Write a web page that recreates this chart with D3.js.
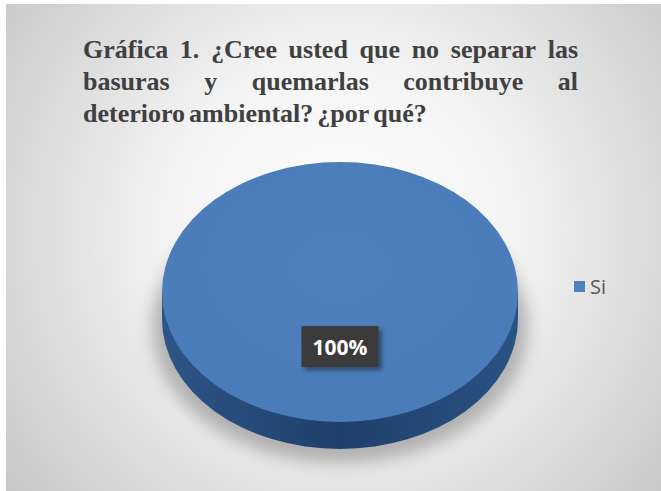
<!DOCTYPE html>
<html>
<head>
<meta charset="utf-8">
<script src="https://cdn.jsdelivr.net/npm/d3@7"></script>
<style>
  html, body { margin: 0; padding: 0; background: #fff; }
  svg { display: block; }
</style>
</head>
<body>
<div id="chart"></div>
<script>
// Data
const categories = ['Si'];
const values = [100];
const titleLines = [
    'Gráfica 1. ¿Cree usted que no separar las',
    'basuras y quemarlas contribuye al',
    'deterioro ambiental? ¿por qué?'
];

const W = 661, H = 491;
const svg = d3.select('#chart').append('svg')
    .attr('width', W)
    .attr('height', H);

const defs = svg.append('defs');

// Background panel gradient
const bg = defs.append('radialGradient')
    .attr('id', 'bg')
    .attr('gradientUnits', 'userSpaceOnUse')
    .attr('cx', 340).attr('cy', 230).attr('r', 440);
bg.append('stop').attr('offset', '0%').attr('stop-color', '#ffffff');
bg.append('stop').attr('offset', '40%').attr('stop-color', '#f3f3f3');
bg.append('stop').attr('offset', '100%').attr('stop-color', '#c4c4c4');

const sideGrad = defs.append('linearGradient')
    .attr('id', 'side')
    .attr('x1', '0%').attr('x2', '100%');
sideGrad.append('stop').attr('offset', '0%').attr('stop-color', '#2d5586');
sideGrad.append('stop').attr('offset', '50%').attr('stop-color', '#1f3f6b');
sideGrad.append('stop').attr('offset', '100%').attr('stop-color', '#2a5283');

const topGrad = defs.append('radialGradient')
    .attr('id', 'top')
    .attr('cx', '50%').attr('cy', '40%').attr('r', '60%');
topGrad.append('stop').attr('offset', '0%').attr('stop-color', '#4f80bd');
topGrad.append('stop').attr('offset', '100%').attr('stop-color', '#4a7cb9');

const blur = defs.append('filter').attr('id', 'blur')
    .attr('x', '-20%').attr('y', '-20%').attr('width', '140%').attr('height', '140%');
blur.append('feGaussianBlur').attr('stdDeviation', 8);

const boxShadow = defs.append('filter').attr('id', 'boxShadow')
    .attr('x', '-20%').attr('y', '-20%').attr('width', '150%').attr('height', '160%');
boxShadow.append('feDropShadow')
    .attr('dx', 3).attr('dy', 3).attr('stdDeviation', 2.5)
    .attr('flood-color', '#000').attr('flood-opacity', 0.45);

svg.append('rect')
    .attr('x', 6).attr('y', 4)
    .attr('width', W - 6).attr('height', H - 4)
    .attr('fill', 'url(#bg)');

// Title, justified over the first two lines
const titleX0 = 83, titleX1 = 578;
const title = svg.append('g')
    .attr('font-family', '"Liberation Serif", "Times New Roman", serif')
    .attr('font-weight', 'bold')
    .attr('font-size', 26)
    .attr('fill', '#404040');

titleLines.forEach((line, i) => {
    const y = 58 + i * 32;
    const words = line.split(' ');
    const t = title.append('g');
    const nodes = words.map(w => t.append('text').attr('y', y).text(w));
    const widths = nodes.map(n => n.node().getComputedTextLength());
    const total = d3.sum(widths);
    const justify = i < titleLines.length - 1;
    const gap = justify ? (titleX1 - titleX0 - total) / (words.length - 1) : 4;
    let x = titleX0;
    nodes.forEach((n, j) => {
        n.attr('x', x);
        x += widths[j] + gap;
    });
});

// 3D pie
const cx = 340, cy = 292, rx = 178, ry = 130, depth = 27;
const pie = d3.pie().sort(null)(values);
const arc = d3.arc().innerRadius(0).outerRadius(rx);
const labelArc = d3.arc().innerRadius(rx * 0.42).outerRadius(rx * 0.42);
const squash = ry / rx;

// shadow under the pie
svg.append('ellipse')
    .attr('cx', cx).attr('cy', cy + depth + 8)
    .attr('rx', rx + 10).attr('ry', ry + 6)
    .attr('fill', '#8a8a8a')
    .attr('opacity', 0.6)
    .attr('filter', 'url(#blur)');

const pieG = svg.append('g');

// side wall
pieG.selectAll('path.base')
    .data(pie)
    .join('path')
    .attr('class', 'base')
    .attr('transform', `translate(${cx},${cy + depth}) scale(1,${squash})`)
    .attr('d', arc)
    .attr('fill', 'url(#side)');

pieG.append('rect')
    .attr('x', cx - rx).attr('y', cy)
    .attr('width', rx * 2).attr('height', depth)
    .attr('fill', 'url(#side)');

// top face
pieG.selectAll('path.top')
    .data(pie)
    .join('path')
    .attr('class', 'top')
    .attr('transform', `translate(${cx},${cy}) scale(1,${squash})`)
    .attr('d', arc)
    .attr('fill', 'url(#top)');

// data label
pie.forEach((d, i) => {
    const [lx, ly] = labelArc.centroid(d);
    const px = cx + lx, py = cy + ly * squash;
    const bw = 77, bh = 41;
    const g = svg.append('g');
    g.append('rect')
        .attr('x', px - bw / 2).attr('y', py - bh / 2)
        .attr('width', bw).attr('height', bh)
        .attr('fill', '#3b3b3b')
        .attr('filter', 'url(#boxShadow)');
    g.append('text')
        .attr('x', px).attr('y', py)
        .attr('text-anchor', 'middle')
        .attr('dominant-baseline', 'central')
        .attr('font-family', '"Open Sans", "Noto Sans", sans-serif')
        .attr('font-weight', 'bold')
        .attr('font-size', 21)
        .attr('fill', '#ffffff')
        .text(d3.format('.0%')(d.data / d3.sum(values)));
});

// legend
const color = d3.scaleOrdinal().domain(categories).range(['#4f80bd']);
const legend = svg.append('g').attr('transform', 'translate(574,281)');
categories.forEach((c, i) => {
    const row = legend.append('g').attr('transform', `translate(0,${i * 22})`);
    row.append('rect')
        .attr('width', 11).attr('height', 11)
        .attr('fill', color(c));
    row.append('text')
        .attr('x', 16).attr('y', 5)
        .attr('dominant-baseline', 'central')
        .attr('font-family', '"Open Sans", "Noto Sans", sans-serif')
        .attr('font-size', 20)
        .attr('fill', '#595959')
        .text(c);
});
</script>
</body>
</html>
